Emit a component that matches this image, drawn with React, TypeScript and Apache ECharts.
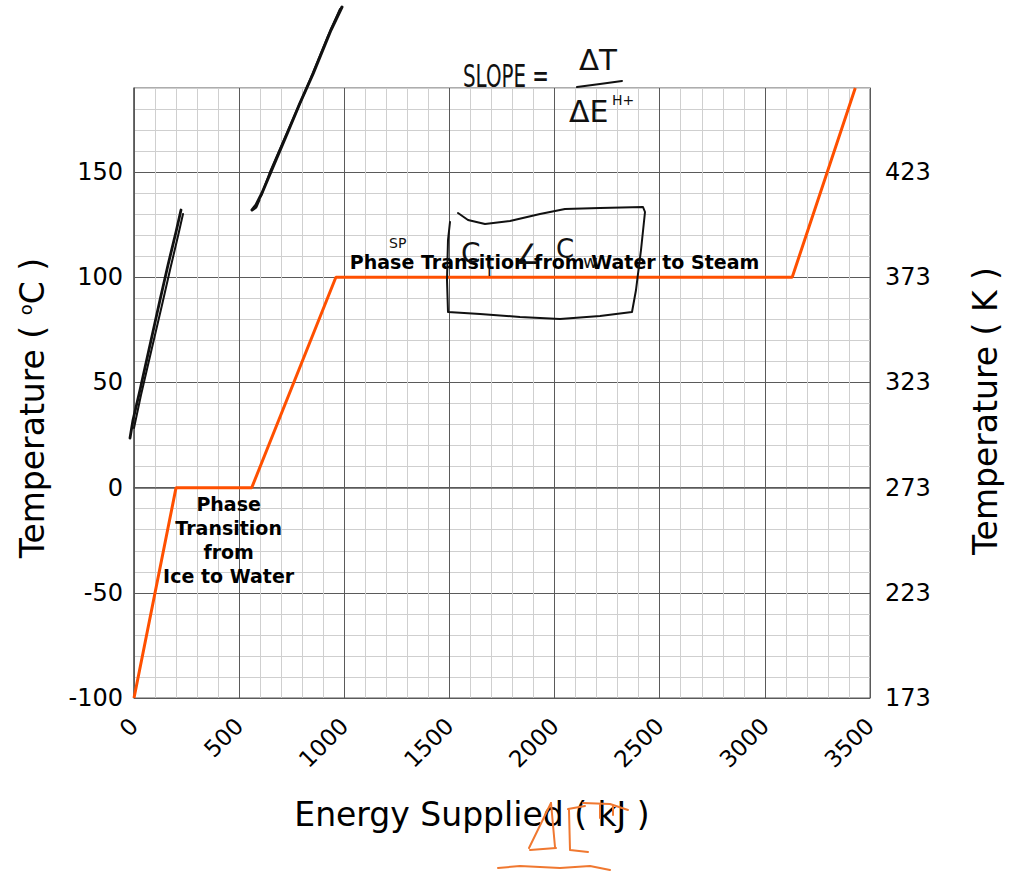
import React, { useEffect, useRef } from "react";
import * as echarts from "echarts";

// Data
const energyKJ = [0, 200, 560, 960, 3130, 3430];
const temperatureC = [-100, 0, 0, 100, 100, 190];

const xMin = 0;
const xMax = 3500;
const xMajor = 500;
const xMinor = 100;
const yMin = -100;
const yMax = 190;
const yMajor = 50;
const yMinor = 10;
const kelvinOffset = 273;

const annotationNames = [
  "Phase Transition from Water to Steam",
  "Phase\nTransition\nfrom\nIce to Water",
];
const annotationX = [2000, 450];
const annotationY = [107.5, -25];

const FONT = "DejaVu Sans";
const MAJOR = "#5a5a5a";
const MINOR = "#cfcfcf";
const INK = "#111111";
const ORANGE_INK = "#f07830";

export default function App() {
  const ref = useRef<HTMLDivElement>(null);

  useEffect(() => {
    document.body.style.margin = "0";
    if (!ref.current) return;
    const chart = echarts.init(ref.current, undefined, { renderer: "svg" });

    const gridColors = [MAJOR, MINOR, MINOR, MINOR, MINOR];
    const ink = (points: number[][], w = 2.2, color = INK) => ({
      type: "polyline",
      silent: true,
      z: 100,
      shape: { points },
      style: { stroke: color, lineWidth: w, fill: "none", lineCap: "round", lineJoin: "round" },
    });
    const inkText = (text: string, x: number, y: number, size: number, sx = 1, color = INK) => ({
      type: "text",
      silent: true,
      z: 100,
      x,
      y,
      scaleX: sx,
      style: { text, fontSize: size, fontFamily: FONT, fill: color },
    });

    const option: any = {
      animation: false,
      grid: {
        left: 134,
        right: 138,
        top: 88,
        bottom: 175,
        show: true,
        borderColor: MAJOR,
        borderWidth: 1,
      },
      xAxis: {
        type: "value",
        min: xMin,
        max: xMax,
        interval: xMinor,
        name: "Energy Supplied ( kJ )",
        nameLocation: "middle",
        nameGap: 100,
        nameTextStyle: {
          fontSize: 33,
          fontFamily: FONT,
          color: "#000",
          padding: [0, 60, 0, 0],
        },
        axisLine: { show: true, lineStyle: { color: MAJOR, width: 1.5 } },
        axisTick: { show: false },
        axisLabel: {
          rotate: 45,
          margin: 24,
          fontSize: 23,
          fontFamily: FONT,
          color: "#000",
          formatter: (v: number) => (v % xMajor === 0 ? String(v) : ""),
        },
        splitLine: { show: true, lineStyle: { color: gridColors, width: 1 } },
      },
      yAxis: [
        {
          type: "value",
          position: "left",
          min: yMin,
          max: yMax,
          interval: yMinor,
          name: "Temperature ( {sup|o}C )",
          nameLocation: "middle",
          nameRotate: 90,
          nameGap: 85,
          nameTextStyle: {
            fontSize: 33,
            fontFamily: FONT,
            color: "#000",
            padding: [0, 30, 0, 0],
            rich: {
              sup: { fontSize: 18, fontFamily: FONT, color: "#000", verticalAlign: "top", padding: [0, 0, 14, 0] },
            },
          },
          axisLine: { show: true, lineStyle: { color: MAJOR, width: 1.5 } },
          axisTick: { show: false },
          axisLabel: {
            margin: 11,
            fontSize: 24,
            fontFamily: FONT,
            color: "#000",
            formatter: (v: number) => (v % yMajor === 0 && v <= 150 ? String(v) : ""),
          },
          splitLine: { show: true, lineStyle: { color: gridColors, width: 1 } },
        },
        {
          type: "value",
          position: "right",
          min: yMin,
          max: yMax,
          interval: yMinor,
          name: "Temperature ( K )",
          nameLocation: "middle",
          nameRotate: 90,
          nameGap: 99,
          nameTextStyle: {
            fontSize: 33,
            fontFamily: FONT,
            color: "#000",
            padding: [0, 36, 0, 0],
          },
          axisLine: { show: true, lineStyle: { color: MAJOR, width: 1 } },
          axisTick: { show: false },
          axisLabel: {
            margin: 15,
            fontSize: 24,
            fontFamily: FONT,
            color: "#000",
            formatter: (v: number) => (v % yMajor === 0 && v <= 150 ? String(v + kelvinOffset) : ""),
          },
          splitLine: { show: false },
        },
      ],
      series: [
        {
          type: "line",
          yAxisIndex: 0,
          data: energyKJ.map((e, i) => [e, temperatureC[i]]),
          symbol: "none",
          lineStyle: { color: "#ff5000", width: 3 },
          clip: true,
          z: 3,
          markPoint: {
            symbol: "circle",
            symbolSize: 1,
            itemStyle: { color: "rgba(0,0,0,0)" },
            label: {
              show: true,
              position: "inside",
              formatter: (p: any) => p.name,
              color: "#000",
              fontFamily: FONT,
              fontWeight: "bold",
              fontSize: 19,
              lineHeight: 24,
              align: "center",
            },
            data: annotationNames.map((n, i) => ({
              name: n,
              coord: [annotationX[i], annotationY[i]],
            })),
          },
        },
      ],
      graphic: [
        // black hand-drawn strokes
        ink([[181, 210], [176, 232], [168, 265], [160, 300], [150, 345], [140, 390], [133, 420], [130, 438]], 2.8),
        ink([[183, 214], [178, 236], [170, 270], [162, 305], [151, 352], [141, 395], [134, 428]], 2),
        ink([[342, 7], [331, 30], [313, 74], [300, 103], [287, 134], [273, 167], [262, 193], [256, 205], [252, 210], [256, 207], [259, 200]], 3),
        ink([[340, 9], [328, 36], [310, 80], [297, 110], [283, 142], [270, 172], [261, 196]], 2),
        // SLOPE = ΔT / ΔE
        inkText("SLOPE =", 463, 60, 32, 0.62),
        inkText("ΔT", 579, 46, 28, 1.05),
        ink([[577, 87], [600, 84], [622, 81]], 2),
        inkText("ΔE", 569, 96, 30, 1),
        inkText("H+", 612, 93, 14, 1),
        // box around the plateau
        ink([[458, 213], [468, 220], [485, 224], [510, 221], [540, 214], [565, 209], [600, 208], [643, 207], [645, 212], [641, 250], [636, 290], [632, 312], [600, 316], [560, 319], [520, 317], [480, 314], [448, 312], [447, 280], [448, 240], [450, 222]], 2),
        inkText("SP", 389, 236, 14, 1),
        inkText("C", 461, 239, 28, 1),
        inkText("I", 487, 262, 16, 1),
        inkText("∠", 515, 240, 28, 1),
        inkText("C", 556, 236, 26, 1),
        inkText("w", 583, 252, 18, 1),
        // orange ΔE under the x title
        ink([[551, 803], [529, 848]], 2, ORANGE_INK),
        ink([[551, 803], [555, 847]], 2, ORANGE_INK),
        ink([[530, 850], [556, 848]], 2, ORANGE_INK),
        ink([[569, 810], [570, 850], [588, 852]], 2, ORANGE_INK),
        ink([[568, 809], [585, 806]], 2, ORANGE_INK),
        ink([[583, 803], [610, 804], [628, 810]], 2, ORANGE_INK),
        ink([[600, 805], [600, 818]], 2, ORANGE_INK),
        ink([[613, 806], [613, 815]], 2, ORANGE_INK),
        ink([[498, 868], [520, 866], [560, 868], [590, 866], [610, 870]], 2, ORANGE_INK),
      ],
    };

    chart.setOption(option);
    return () => chart.dispose();
  }, []);

  return <div ref={ref} style={{ width: 1010, height: 873 }} />;
}
